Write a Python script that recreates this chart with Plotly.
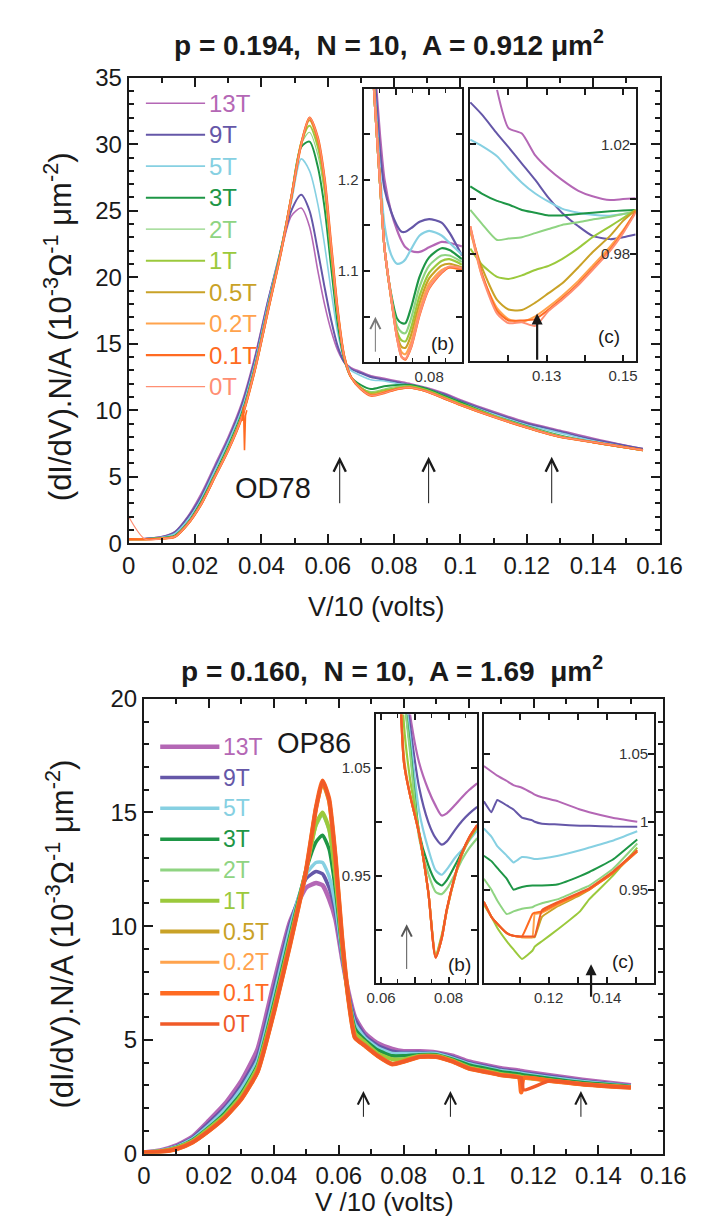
import plotly.graph_objects as go

W, H = 707, 1228
FONT = "Liberation Sans, Arial, sans-serif"

# ---------------- data ----------------
fields = ["13T", "9T", "5T", "3T", "2T", "1T", "0.5T", "0.2T", "0.1T", "0T"]
colors = ["#b467b5", "#6557a8", "#86d0e2", "#1e9646", "#8fd482", "#9bc93c",
          "#c9a227", "#ffa34d", "#ff6b22", "#ff8f73"]
colors_bot = ["#b467b5", "#6557a8", "#86d0e2", "#1e9646", "#8fd482", "#9bc93c",
              "#c9a227", "#ffa34d", "#ff6b22", "#f05a28"]

# top panel (OD78) main curves
v_top = [0, .005, .01, .014, .018, .022, .026, .03, .034, .038, .042, .046, .049, .052,
         .0545, .057, .059, .061, .063, .065, .067, .07, .073, .077, .081, .085, .09,
         .095, .1, .11, .12, .13, .14, .155]
g_top = {
    "13T": [0.3, 0.35, 0.5, 0.9, 2.1, 3.8, 5.9, 8.0, 10.5, 14.0, 18.3, 22.0, 24.6, 25.2, 23.8, 20.5, 18.0, 16.0, 14.5, 13.6, 13.2, 12.9, 12.6, 12.4, 12.2, 12.0, 11.7, 11.3, 10.8, 9.9, 9.1, 8.5, 7.9, 7.1],
    "9T":  [0.3, 0.35, 0.48, 0.85, 2.0, 3.6, 5.7, 7.8, 10.3, 13.8, 18.2, 22.2, 25.0, 26.2, 25.0, 22.0, 19.3, 16.8, 14.8, 13.6, 13.1, 12.8, 12.5, 12.3, 12.1, 11.9, 11.6, 11.2, 10.7, 9.8, 9.0, 8.4, 7.8, 7.1],
    "5T":  [0.3, 0.33, 0.45, 0.75, 1.8, 3.4, 5.5, 7.6, 10.0, 13.5, 18.0, 22.3, 25.6, 28.9, 28.0, 25.5, 22.5, 19.0, 15.8, 13.8, 13.0, 12.6, 12.3, 12.2, 12.0, 11.9, 11.6, 11.1, 10.6, 9.7, 8.9, 8.3, 7.7, 7.0],
    "3T":  [0.3, 0.32, 0.4, 0.6, 1.6, 3.2, 5.2, 7.3, 9.7, 13.2, 17.7, 22.2, 26.0, 29.8, 30.2, 28.3, 25.3, 20.8, 16.5, 13.8, 12.5, 11.9, 11.6, 11.8, 11.9, 11.9, 11.6, 11.1, 10.6, 9.6, 8.8, 8.1, 7.6, 7.0],
    "2T":  [0.3, 0.31, 0.38, 0.55, 1.55, 3.1, 5.1, 7.2, 9.6, 13.1, 17.6, 22.1, 26.0, 30.0, 30.9, 29.2, 26.3, 21.5, 17.0, 13.9, 12.5, 11.7, 11.4, 11.6, 11.8, 11.8, 11.5, 11.0, 10.5, 9.6, 8.8, 8.1, 7.6, 7.0],
    "1T":  [0.3, 0.3, 0.37, 0.52, 1.52, 3.05, 5.05, 7.1, 9.5, 13.05, 17.55, 22.05, 26.0, 30.1, 31.4, 29.8, 26.8, 21.9, 17.2, 14.0, 12.5, 11.7, 11.3, 11.5, 11.7, 11.8, 11.5, 11.0, 10.5, 9.6, 8.7, 8.0, 7.6, 7.0],
    "0.5T": [0.3, 0.3, 0.36, 0.5, 1.5, 3.0, 5.0, 7.0, 9.4, 13.0, 17.5, 22.0, 26.0, 30.1, 31.8, 30.2, 27.2, 22.2, 17.4, 14.0, 12.5, 11.6, 11.2, 11.4, 11.6, 11.7, 11.4, 10.9, 10.4, 9.5, 8.7, 8.0, 7.6, 7.0],
    "0.2T": [0.3, 0.3, 0.35, 0.5, 1.5, 3.0, 5.0, 7.0, 9.4, 13.0, 17.5, 22.0, 26.0, 30.0, 32.0, 30.4, 27.4, 22.4, 17.5, 14.0, 12.5, 11.6, 11.15, 11.35, 11.6, 11.7, 11.4, 10.9, 10.4, 9.5, 8.7, 8.0, 7.6, 7.0],
    "0.1T": [0.3, 0.3, 0.35, 0.5, 1.5, 3.0, 5.0, 7.0, 9.4, 13.0, 17.5, 22.0, 26.0, 30.0, 32.0, 30.5, 27.5, 22.5, 17.5, 14.0, 12.5, 11.6, 11.1, 11.3, 11.6, 11.7, 11.4, 10.9, 10.4, 9.5, 8.7, 8.0, 7.6, 7.0],
    "0T":  [2.0, 0.3, 0.35, 0.5, 1.5, 3.0, 5.0, 7.0, 9.4, 13.0, 17.5, 22.0, 26.0, 30.0, 32.0, 30.5, 27.5, 22.5, 17.5, 14.0, 12.5, 11.6, 11.1, 11.3, 11.6, 11.7, 11.4, 10.9, 10.4, 9.5, 8.7, 8.0, 7.6, 7.0],
}
# glitch of the 0.1T trace near 0.035 V
glitch_v = [0.0342, 0.0346, 0.0349, 0.0352, 0.0356]
glitch_g = [9.2, 10.3, 7.0, 9.6, 10.0]

# top inset (b)
vb_top = [0.0615, 0.0635, 0.065, 0.0664, 0.0684, 0.0702, 0.0716, 0.0728, 0.0745, 0.0771, 0.08, 0.0838, 0.0862, 0.09]
gb_top = {
    "13T": [1.40, 1.32, 1.25, 1.20, 1.165, 1.145, 1.133, 1.126, 1.122, 1.121, 1.126, 1.132, 1.131, 1.127],
    "9T":  [1.40, 1.31, 1.232, 1.19, 1.165, 1.15, 1.143, 1.143, 1.147, 1.154, 1.157, 1.153, 1.142, 1.117],
    "5T":  [1.40, 1.29, 1.21, 1.15, 1.118, 1.108, 1.109, 1.113, 1.124, 1.139, 1.144, 1.139, 1.131, 1.118],
    "3T":  [1.40, 1.28, 1.197, 1.125, 1.075, 1.048, 1.043, 1.043, 1.06, 1.094, 1.115, 1.125, 1.123, 1.113],
    "2T":  [1.40, 1.28, 1.197, 1.125, 1.072, 1.040, 1.033, 1.032, 1.048, 1.083, 1.106, 1.117, 1.117, 1.110],
    "1T":  [1.40, 1.28, 1.197, 1.125, 1.071, 1.034, 1.024, 1.023, 1.038, 1.073, 1.098, 1.111, 1.113, 1.107],
    "0.5T": [1.40, 1.28, 1.197, 1.125, 1.071, 1.030, 1.017, 1.016, 1.030, 1.065, 1.092, 1.106, 1.108, 1.104],
    "0.2T": [1.40, 1.28, 1.197, 1.125, 1.071, 1.028, 1.011, 1.009, 1.022, 1.058, 1.086, 1.101, 1.104, 1.101],
    "0.1T": [1.40, 1.28, 1.197, 1.125, 1.071, 1.027, 1.006, 1.003, 1.016, 1.052, 1.081, 1.098, 1.104, 1.102],
    "0T":  [1.40, 1.28, 1.197, 1.125, 1.071, 1.027, 1.006, 1.004, 1.017, 1.053, 1.082, 1.099, 1.105, 1.103],
}

# top inset (c)
vc_top = [0.11, 0.113, 0.117, 0.12, 0.1235, 0.127, 0.1305, 0.134, 0.1383, 0.142, 0.1466, 0.15, 0.1533]
gc_top = {
    "13T": [None, None, 1.040, 1.026, 1.024, 1.016, 1.011, 1.007, 1.003, 1.001, 0.9996, 1.0, 1.0003],
    "9T":  [1.0354, 1.031, 1.024, 1.019, 1.013, 1.007, 1.0004, 0.995, 0.990, 0.9865, 0.9853, 0.986, 0.987],
    "5T":  [1.0218, 1.0195, 1.0157, 1.011, 1.006, 1.002, 0.999, 0.9965, 0.995, 0.9942, 0.9939, 0.9945, 0.995],
    "3T":  [1.0046, 1.002, 0.9993, 0.998, 0.996, 0.995, 0.994, 0.994, 0.9945, 0.995, 0.9955, 0.9958, 0.996],
    "2T":  [0.996, 0.991, 0.985, 0.9855, 0.986, 0.9875, 0.989, 0.9905, 0.9915, 0.9925, 0.9935, 0.9945, 0.9955],
    "1T":  [0.9818, 0.976, 0.9715, 0.9707, 0.972, 0.974, 0.9755, 0.978, 0.982, 0.986, 0.990, 0.993, 0.996],
    "0.5T": [0.988, 0.975, 0.963, 0.9595, 0.9593, 0.962, 0.9655, 0.969, 0.975, 0.9805, 0.9865, 0.992, 0.996],
    "0.2T": [0.989, 0.972, 0.960, 0.956, 0.955, 0.957, 0.9605, 0.9645, 0.970, 0.9755, 0.9825, 0.9885, 0.9955],
    "0.1T": [0.990, 0.973, 0.959, 0.9555, 0.9555, 0.956, 0.9595, 0.9635, 0.969, 0.9745, 0.9815, 0.988, 0.9955],
    "0T":  [0.990, 0.972, 0.958, 0.9545, 0.9548, 0.9535, 0.959, 0.963, 0.9685, 0.974, 0.981, 0.9875, 0.995],
}

# bottom panel (OP86) main curves
v_bot = [0, .005, .01, .015, .02, .025, .03, .035, .04, .045, .05, .053, .055, .057, .059, .061,
         .063, .065, .068, .072, .0765, .08, .085, .09, .095, .1, .105, .11, .1155, .1162, .117,
         .125, .135, .15]
g_bot = {
    "13T": [0.05, 0.14, 0.36, 0.75, 1.45, 2.2, 3.2, 4.6, 7.5, 10.2, 11.7, 11.9, 11.8, 11.2, 10.3, 8.6, 7.1, 6.0, 5.3, 4.85, 4.6, 4.5, 4.5, 4.45, 4.3, 4.05, 3.9, 3.75, 3.65, 3.63, 3.61, 3.45, 3.25, 3.0],
    "9T":  [0.05, 0.13, 0.33, 0.7, 1.35, 2.05, 3.0, 4.3, 7.2, 10.1, 12.1, 12.4, 12.3, 11.7, 10.6, 8.7, 7.0, 5.9, 5.2, 4.75, 4.5, 4.45, 4.45, 4.42, 4.25, 4.0, 3.85, 3.7, 3.6, 3.58, 3.56, 3.4, 3.2, 2.98],
    "5T":  [0.05, 0.12, 0.3, 0.65, 1.25, 1.95, 2.85, 4.1, 6.9, 9.9, 12.3, 12.8, 12.8, 12.2, 10.9, 8.8, 6.9, 5.7, 5.1, 4.65, 4.4, 4.4, 4.4, 4.4, 4.2, 3.95, 3.8, 3.65, 3.55, 3.53, 3.51, 3.35, 3.17, 2.97],
    "3T":  [0.05, 0.1, 0.27, 0.6, 1.15, 1.8, 2.65, 3.9, 6.6, 9.6, 12.5, 13.7, 14.0, 13.4, 11.6, 9.0, 6.9, 5.5, 5.0, 4.55, 4.3, 4.3, 4.35, 4.35, 4.15, 3.9, 3.75, 3.6, 3.5, 3.48, 3.46, 3.3, 3.12, 2.95],
    "2T":  [0.05, 0.1, 0.25, 0.55, 1.1, 1.7, 2.55, 3.8, 6.4, 9.4, 12.5, 14.4, 14.9, 14.2, 12.1, 9.2, 6.8, 5.3, 4.9, 4.4, 4.15, 4.15, 4.3, 4.3, 4.1, 3.8, 3.65, 3.5, 3.4, 3.38, 3.36, 3.22, 3.06, 2.92],
    "1T":  [0.05, 0.1, 0.25, 0.55, 1.1, 1.7, 2.55, 3.8, 6.4, 9.4, 12.5, 14.5, 15.0, 14.3, 12.2, 9.2, 6.8, 5.3, 4.9, 4.4, 4.15, 4.15, 4.3, 4.3, 4.1, 3.8, 3.65, 3.5, 3.4, 3.38, 3.36, 3.22, 3.06, 2.92],
    "0.5T": [0.05, 0.08, 0.2, 0.5, 1.0, 1.6, 2.4, 3.6, 6.2, 9.2, 12.5, 15.2, 16.3, 15.5, 13.0, 9.5, 6.8, 5.1, 4.75, 4.3, 3.95, 4.05, 4.26, 4.26, 4.05, 3.75, 3.6, 3.45, 3.35, 3.34, 3.33, 3.2, 3.05, 2.9],
    "0.2T": [0.05, 0.08, 0.2, 0.5, 1.0, 1.6, 2.4, 3.6, 6.2, 9.2, 12.5, 15.2, 16.4, 15.6, 13.0, 9.5, 6.8, 5.1, 4.75, 4.3, 3.95, 4.05, 4.26, 4.26, 4.05, 3.75, 3.6, 3.45, 3.35, 3.34, 3.33, 3.2, 3.05, 2.9],
    "0.1T": [0.05, 0.08, 0.2, 0.5, 1.0, 1.6, 2.4, 3.6, 6.2, 9.2, 12.5, 15.2, 16.4, 15.6, 13.0, 9.5, 6.8, 5.1, 4.75, 4.3, 3.93, 4.05, 4.26, 4.26, 4.05, 3.75, 3.6, 3.45, 3.35, 2.7, 3.33, 3.2, 3.05, 2.9],
    "0T":  [0.05, 0.08, 0.2, 0.5, 1.0, 1.6, 2.4, 3.6, 6.2, 9.2, 12.5, 15.2, 16.4, 15.6, 13.0, 9.5, 6.8, 5.1, 4.75, 4.3, 3.93, 4.05, 4.26, 4.26, 4.05, 3.75, 3.6, 3.45, 3.35, 3.34, 2.8, 3.2, 3.05, 2.9],
}

# bottom inset (b)
vb_bot = [0.064, 0.0668, 0.0686, 0.0713, 0.074, 0.0762, 0.078, 0.0795, 0.082, 0.084, 0.0862, 0.0885]
gb_bot = {
    "13T": [1.30, 1.15, 1.10, 1.055, 1.030, 1.015, 1.006, 1.008, 1.016, 1.023, 1.030, 1.036],
    "9T":  [1.30, 1.14, 1.09, 1.032, 1.000, 0.985, 0.979, 0.982, 0.993, 1.001, 1.008, 1.014],
    "5T":  [1.30, 1.13, 1.08, 1.010, 0.975, 0.955, 0.951, 0.956, 0.967, 0.974, 0.983, 0.992],
    "3T":  [1.30, 1.12, 1.07, 0.990, 0.960, 0.945, 0.941, 0.946, 0.960, 0.972, 0.985, 0.996],
    "2T":  [1.30, 1.12, 1.065, 0.985, 0.952, 0.935, 0.933, 0.938, 0.952, 0.965, 0.976, 0.985],
    "1T":  [1.30, 1.09, 1.04, 0.990, 0.935, 0.877, 0.895, 0.918, 0.950, 0.970, 0.984, 0.995],
    "0.5T": [1.30, 1.06, 1.025, 0.989, 0.935, 0.876, 0.893, 0.918, 0.950, 0.970, 0.985, 0.997],
    "0.2T": [1.30, 1.055, 1.025, 0.989, 0.935, 0.875, 0.892, 0.918, 0.950, 0.971, 0.986, 0.997],
    "0.1T": [1.30, 1.055, 1.025, 0.989, 0.935, 0.874, 0.892, 0.919, 0.951, 0.971, 0.986, 0.997],
    "0T":  [1.30, 1.055, 1.025, 0.989, 0.935, 0.874, 0.892, 0.919, 0.951, 0.971, 0.986, 0.997],
}

# bottom inset (c)
vc_bot = [0.0977, 0.1003, 0.1023, 0.1056, 0.1079, 0.1108, 0.1144, 0.1152, 0.1177, 0.1233, 0.1308, 0.134, 0.1420, 0.1505]
gc_bot = {
    "13T": [1.041, 1.037, 1.034, 1.030, 1.027, 1.025, 1.021, 1.020, 1.018, 1.015, 1.009, 1.007, 1.003, 1.000],
    "9T":  [1.015, 1.007, 1.016, 1.012, 1.009, 1.003, 1.001, 1.0, 0.9986, 0.998, 0.997, 0.997, 0.9965, 0.9964],
    "5T":  [0.995, 0.989, 0.982, 0.975, 0.970, 0.974, 0.973, 0.9725, 0.973, 0.975, 0.979, 0.981, 0.986, 0.993],
    "3T":  [0.975, 0.971, 0.966, 0.958, 0.950, 0.952, 0.953, 0.953, 0.953, 0.954, 0.960, 0.963, 0.972, 0.987],
    "2T":  [0.958, 0.950, 0.942, 0.932, 0.934, 0.936, 0.937, 0.938, 0.940, 0.943, 0.950, 0.953, 0.965, 0.984],
    "1T":  [0.939, 0.930, 0.922, 0.912, 0.906, 0.899, 0.905, 0.908, 0.912, 0.921, 0.934, 0.943, 0.960, 0.981],
    "0.5T": [0.941, 0.930, 0.925, 0.918, 0.916, 0.915, 0.915, 0.915, 0.930, 0.938, 0.946, 0.950, 0.962, 0.978],
    "0.2T": [0.941, 0.930, 0.925, 0.918, 0.916, 0.915, 0.915, 0.932, 0.933, 0.939, 0.947, 0.951, 0.963, 0.979],
    "0.1T": [0.941, 0.930, 0.925, 0.918, 0.916, 0.9155, 0.932, 0.933, 0.934, 0.940, 0.947, 0.950, 0.962, 0.978],
    "0T":  [0.941, 0.930, 0.925, 0.918, 0.916, 0.9155, 0.9155, 0.9155, 0.935, 0.941, 0.948, 0.951, 0.963, 0.979],
}

arrows_top = [0.0636, 0.0904, 0.1275]
arrows_bot = [0.0676, 0.0944, 0.1346]

# inset y tick labels drawn inside the right edge
yc_top_labels = [1.02, 0.98]
yc_bot_labels = [1.05, 1.0, 0.95]

# ---------------- layout helpers ----------------
def dx(a, b):
    return [a / W, b / W]

def dy(top, bottom):
    return [1 - bottom / H, 1 - top / H]

def px(x):
    return x / W

def py(y):
    return 1 - y / H

lw_top = [1.6, 2.0, 1.6, 2.0, 1.2, 2.0, 2.0, 2.0, 2.4, 1.2]
lw_bot = [4.5, 3.5, 3.5, 3.5, 3.0, 4.0, 4.0, 3.0, 4.5, 3.5]

fig = go.Figure()

def add_set(xs, dct, xa, ya, cols, widths, smooth):
    for name, c, w in zip(fields, cols, widths):
        fig.add_trace(go.Scatter(x=xs, y=dct[name], mode="lines", xaxis=xa, yaxis=ya,
                                 line=dict(color=c, width=w, shape="spline", smoothing=smooth),
                                 showlegend=False, connectgaps=False, hoverinfo="skip"))

add_set(v_top, g_top, "x", "y", colors, lw_top, 0.8)
fig.add_trace(go.Scatter(x=glitch_v, y=glitch_g, mode="lines", xaxis="x", yaxis="y",
                         line=dict(color=colors[8], width=1.6), showlegend=False))
add_set(vb_top, gb_top, "x2", "y2", colors, [2.2] * 10, 0.7)
add_set(vc_top, gc_top, "x3", "y3", colors, [2.0] * 10, 0.6)
add_set(v_bot, g_bot, "x4", "y4", colors_bot, lw_bot, 0.5)
add_set(vb_bot, gb_bot, "x5", "y5", colors_bot, [2.2] * 10, 0.7)
add_set(vc_bot, gc_bot, "x6", "y6", colors_bot, [2.0] * 10, 0.3)

AX = "#1a1a1a"
TICKF = 24
INF = 15

def main_axes(xdom, ydom, yr, anchor_x, anchor_y):
    xa = dict(domain=xdom, range=[0, 0.16], anchor=anchor_y, showline=True, linewidth=2,
              linecolor=AX, mirror="ticks", ticks="inside", ticklen=9, tickwidth=2,
              tickcolor=AX, dtick=0.02, tick0=0, showgrid=False, zeroline=False,
              tickfont=dict(family=FONT, size=TICKF, color=AX),
              minor=dict(ticks="inside", dtick=0.01, ticklen=5, tickwidth=1.5, tickcolor=AX))
    ya = dict(domain=ydom, range=yr, anchor=anchor_x, showline=True, linewidth=2,
              linecolor=AX, mirror="ticks", ticks="inside", ticklen=9, tickwidth=2,
              tickcolor=AX, dtick=5, tick0=0, showgrid=False, zeroline=False,
              tickfont=dict(family=FONT, size=TICKF, color=AX),
              minor=dict(ticks="inside", dtick=1, ticklen=5, tickwidth=1.5, tickcolor=AX))
    return xa, ya

def inset_axes(xdom, ydom, xr, yr, anchor_x, anchor_y, xtv, xtt, ytv, ytt,
               xminor=None, yminor=None):
    xa = dict(domain=xdom, range=xr, anchor=anchor_y, showline=True, linewidth=2,
              linecolor=AX, mirror="ticks", ticks="inside", ticklen=6, tickwidth=1.5,
              tickcolor=AX, tickvals=xtv, ticktext=xtt, showgrid=False, zeroline=False,
              tickfont=dict(family=FONT, size=INF, color="#333"))
    ya = dict(domain=ydom, range=yr, anchor=anchor_x, showline=True, linewidth=2,
              linecolor=AX, mirror="ticks", ticks="inside", ticklen=6, tickwidth=1.5,
              tickcolor=AX, tickvals=ytv, ticktext=ytt, showgrid=False, zeroline=False,
              tickfont=dict(family=FONT, size=INF, color="#333"))
    if xminor:
        xa["minor"] = dict(ticks="inside", tickvals=xminor, ticklen=4, tickwidth=1.2, tickcolor=AX)
    if yminor:
        ya["minor"] = dict(ticks="inside", tickvals=yminor, ticklen=4, tickwidth=1.2, tickcolor=AX)
    return xa, ya

# pixel frames
TOP = dict(x0=117, x1=673, y0=57, y1=533)
TB = dict(x0=363, x1=466, y0=68, y1=348)
TC = dict(x0=474, x1=648, y0=68, y1=347)
BOT = dict(x0=133, x1=677, y0=692, y1=1157)
BB = dict(x0=376, x1=482, y0=708, y1=983)
BC = dict(x0=489, x1=667, y0=708, y1=983)

x1, y1 = main_axes(dx(TOP["x0"], TOP["x1"]), dy(TOP["y0"], TOP["y1"]), [0, 35], "x", "y")
x4, y4 = main_axes(dx(BOT["x0"], BOT["x1"]), dy(BOT["y0"], BOT["y1"]), [0, 20], "x4", "y4")
x2, y2 = inset_axes(dx(TB["x0"], TB["x1"]), dy(TB["y0"], TB["y1"]), [0.06, 0.09], [1.0, 1.3],
                    "x2", "y2", [0.07, 0.08, 0.09], ["", "0.08", ""], [1.05, 1.1, 1.15, 1.2, 1.25],
                    ["", "1.1", "", "1.2", ""], xminor=[0.065, 0.075, 0.085])
x3, y3 = inset_axes(dx(TC["x0"], TC["x1"]), dy(TC["y0"], TC["y1"]), [0.1098, 0.1533], [0.9405, 1.0405],
                    "x3", "y3", [0.12, 0.13, 0.14, 0.15], ["", "0.13", "", "0.15"],
                    [0.98, 1.0, 1.02], ["", "", ""])
x5, y5 = inset_axes(dx(BB["x0"], BB["x1"]), dy(BB["y0"], BB["y1"]), [0.0585, 0.0885], [0.85, 1.1],
                    "x5", "y5", [0.06, 0.07, 0.08], ["0.06", "", "0.08"], [0.9, 0.95, 1.0, 1.05],
                    ["", "0.95", "", "1.05"], xminor=[0.065, 0.075, 0.085])
x6, y6 = inset_axes(dx(BC["x0"], BC["x1"]), dy(BC["y0"], BC["y1"]), [0.0977, 0.1562], [0.881, 1.079],
                    "x6", "y6", [0.11, 0.12, 0.13, 0.14, 0.15], ["", "0.12", "", "0.14", ""],
                    [0.95, 1.0, 1.05], ["", "", ""])

fig.update_layout(
    width=W, height=H, margin=dict(l=0, r=0, t=0, b=0),
    paper_bgcolor="white", plot_bgcolor="rgba(0,0,0,0)", showlegend=False,
    font=dict(family=FONT, color=AX),
    xaxis=x1, yaxis=y1, xaxis2=x2, yaxis2=y2, xaxis3=x3, yaxis3=y3,
    xaxis4=x4, yaxis4=y4, xaxis5=x5, yaxis5=y5, xaxis6=x6, yaxis6=y6,
)

ann = []
shapes = []

def text(x, y, s, size, color=AX, bold=False, angle=0, xanchor="center", xref="paper", yref="paper"):
    ann.append(dict(x=x, y=y, xref=xref, yref=yref, text=f"<b>{s}</b>" if bold else s,
                    showarrow=False, textangle=angle, xanchor=xanchor, yanchor="middle",
                    font=dict(family=FONT, size=size, color=color)))

# titles
text(px(390), py(21), "p = 0.194,  N = 10,  A = 0.912 μm<sup>2</sup>", 28, bold=True)
text(px(393), py(662), "p = 0.160,  N = 10,  A = 1.69  μm<sup>2</sup>", 28, bold=True)
ytitle = "(dI/dV).N/A (10<sup>-3</sup>Ω<sup>-1</sup> μm<sup>-2</sup>)"
text(px(43), py(312), ytitle, 31, angle=-90)
text(px(45), py(932), ytitle, 31, angle=-90)
text(px(377), py(598), "V/10 (volts)", 27)
text(px(385), py(1207), "V /10 (volts)", 26)
text(px(268), py(476), "OD78", 29)
text(px(311), py(737), "OP86", 29)

# inset (c) y tick labels
for v in yc_top_labels:
    text(0.975, v, f"{v:.2f}", INF, color="#333", xanchor="right", xref="x3 domain", yref="y3")
for v in yc_bot_labels:
    text(0.975, v, f"{v:g}", INF, color="#333", xanchor="right", xref="x6 domain", yref="y6")

# legends
def legend(x0, x1, ytop, step, cols, widths, size):
    for i, (nm, c, w) in enumerate(zip(fields, cols, widths)):
        yy = ytop + i * step
        shapes.append(dict(type="line", xref="paper", yref="paper", x0=px(x0), x1=px(x1),
                           y0=py(yy), y1=py(yy), line=dict(color=c, width=w)))
        text(px(x1 + 2), py(yy), nm, size, color=c, xanchor="left")

legend(135, 197, 83, 32.2, colors, lw_top, 24)
legend(150, 212, 741, 31.5, colors_bot, lw_bot, 23)

# arrows
def arrow(x, ytip, ytail, xa, ya, width=1, head=5, size=2.4, color=AX):
    ann.append(dict(x=x, y=ytip, ax=x, ay=ytail, xref=xa, yref=ya, axref=xa, ayref=ya,
                    showarrow=True, arrowhead=head, arrowsize=size, arrowwidth=width,
                    arrowcolor=color, text=""))

for v in arrows_top:
    arrow(v, 6.5, 2.9, "x", "y")
for v in arrows_bot:
    arrow(v, 2.75, 1.55, "x4", "y4", size=2.2)
arrow(arrows_top[0], 1.05, 1.01, "x2", "y2", color="#777", size=2.0)
arrow(arrows_top[2], 0.958, 0.9405, "x3", "y3", width=2.2, head=2, size=1.0)
arrow(arrows_bot[0], 0.905, 0.862, "x5", "y5", color="#555", size=2.0)
arrow(arrows_bot[2], 0.895, 0.870, "x6", "y6", width=2.2, head=2, size=1.0)

# panel tags
text(0.80, 0.07, "(b)", 19, xref="x2 domain", yref="y2 domain")
text(0.84, 0.09, "(c)", 19, xref="x3 domain", yref="y3 domain")
text(0.83, 0.07, "(b)", 19, xref="x5 domain", yref="y5 domain")
text(0.82, 0.08, "(c)", 19, xref="x6 domain", yref="y6 domain")

fig.update_layout(annotations=ann, shapes=shapes)
fig.write_html("out.html")
